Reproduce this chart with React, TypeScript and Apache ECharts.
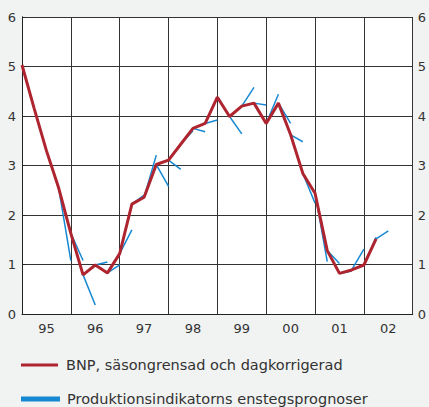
import React, { useEffect, useRef } from "react";
import * as echarts from "echarts";

// Year labels (one per year, centred in each year block of 4 quarters)
const yearLabels = ["95", "96", "97", "98", "99", "00", "01", "02"];

// BNP quarterly values, quarter index 0..29
const bnpValues = [
  5.03, 4.15, 3.3, 2.55, 1.63, 0.79, 0.99, 0.83, 1.22, 2.22,
  2.36, 3.02, 3.11, 3.43, 3.75, 3.85, 4.38, 3.99, 4.2, 4.26,
  3.85, 4.26, 3.62, 2.84, 2.44, 1.28, 0.82, 0.89, 0.99, 1.52,
];

// One-step forecasts: forecast for quarter index (start at 4)
const forecastStart = 4;
const forecastValues = [
  1.08, 1.08, 0.18, 1.05, 0.99, 1.7, 2.4, 3.21, 2.58, 2.92,
  3.7, 3.68, 3.92, 4.0, 3.64, 4.58, 4.22, 4.44, 3.85, 3.48,
  2.24, 1.06, 1.02, 0.87, 1.31, 1.55, 1.68,
];

const yTicks = [0, 1, 2, 3, 4, 5, 6];

const RED = "#ae2530";
const BLUE = "#1688d2";
const NAME_RED = "BNP, säsongrensad och dagkorrigerad";
const NAME_BLUE = "Produktionsindikatorns enstegsprognoser";

export default function App() {
  const ref = useRef<HTMLDivElement>(null);
  useEffect(() => {
    if (!ref.current) return;
    const chart = echarts.init(ref.current, undefined, { renderer: "svg" });
    const font = "DejaVu Sans";
    const redData = bnpValues.map((v, i) => [i, v]);
    const segs = forecastValues.map((f, j) => {
      const k = forecastStart + j;
      return { coords: [[k - 1, bnpValues[k - 1]], [k, f]] };
    });
    const nQ = yearLabels.length * 4;
    const legendBase = {
      orient: "horizontal",
      left: 21,
      padding: 0,
      itemWidth: 37,
      itemHeight: 3,
      icon: "rect",
      textStyle: {
        fontFamily: font,
        fontSize: 14.5,
        color: "#333",
        lineHeight: 16,
        padding: [0, 0, 0, 3],
      },
    };
    chart.setOption({
      animation: false,
      backgroundColor: "#f1f2f2",
      color: [BLUE, RED],
      textStyle: { fontFamily: font },
      grid: {
        left: 22,
        right: 11,
        top: 17,
        bottom: 93,
        show: true,
        backgroundColor: "#ffffff",
        borderWidth: 0,
      },
      legend: [
        {
          ...legendBase,
          top: 357,
          data: [{ name: NAME_RED, itemStyle: { color: RED } }],
        },
        {
          ...legendBase,
          top: 391,
          data: [{ name: NAME_BLUE, itemStyle: { color: BLUE } }],
        },
      ],
      xAxis: [
        {
          type: "value",
          min: 0,
          max: nQ,
          interval: 4,
          axisLine: { show: true, onZero: false, lineStyle: { color: "#222", width: 1 } },
          axisTick: { show: false },
          axisLabel: { show: false },
          splitLine: { show: true, lineStyle: { color: "#333", width: 1 } },
        },
        {
          type: "value",
          position: "bottom",
          min: 0,
          max: nQ,
          interval: 2,
          axisLine: { show: false },
          axisTick: { show: false },
          splitLine: { show: false },
          axisLabel: {
            show: true,
            margin: 8,
            fontFamily: font,
            fontSize: 13,
            color: "#333",
            formatter: (v: number) =>
              v % 4 === 2 ? yearLabels[(v - 2) / 4] : "",
          },
        },
      ],
      yAxis: [
        {
          type: "value",
          min: yTicks[0],
          max: yTicks[yTicks.length - 1],
          interval: 1,
          axisLine: { show: true, lineStyle: { color: "#222", width: 1 } },
          axisTick: { show: false },
          axisLabel: { margin: 6, fontFamily: font, fontSize: 13, color: "#333" },
          splitLine: { show: true, lineStyle: { color: "#333", width: 1 } },
        },
        {
          type: "value",
          position: "right",
          min: yTicks[0],
          max: yTicks[yTicks.length - 1],
          interval: 1,
          axisLine: { show: true, lineStyle: { color: "#222", width: 1 } },
          axisTick: { show: true, length: 3, lineStyle: { color: "#222" } },
          axisLabel: { margin: 5, fontFamily: font, fontSize: 13, color: "#333" },
          splitLine: { show: false },
        },
      ],
      series: [
        {
          name: NAME_BLUE,
          type: "lines",
          coordinateSystem: "cartesian2d",
          xAxisIndex: 0,
          yAxisIndex: 0,
          polyline: false,
          lineStyle: { color: BLUE, width: 1.5, opacity: 1 },
          data: segs,
          silent: true,
        },
        {
          name: NAME_RED,
          type: "line",
          xAxisIndex: 0,
          yAxisIndex: 0,
          data: redData,
          showSymbol: false,
          symbol: "none",
          itemStyle: { color: RED },
          lineStyle: { color: RED, width: 3 },
        },
      ],
    });
    return () => chart.dispose();
  }, []);
  return (
    <div
      ref={ref}
      style={{ position: "fixed", left: 0, top: 0, width: 429, height: 407 }}
    />
  );
}
